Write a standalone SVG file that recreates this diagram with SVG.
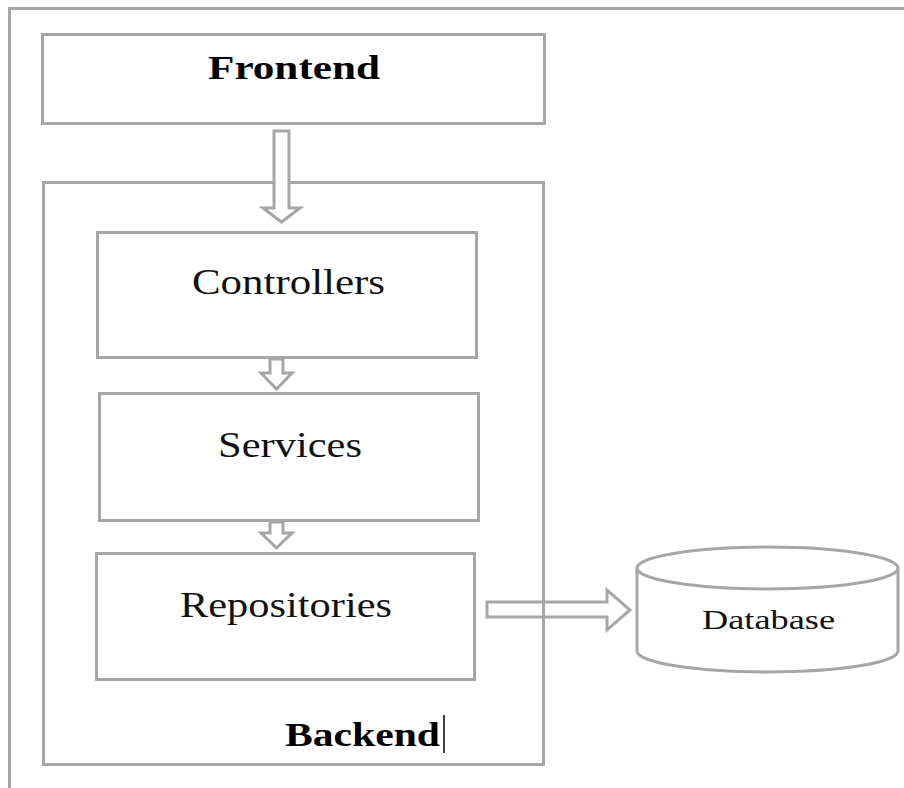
<svg xmlns="http://www.w3.org/2000/svg" width="904" height="788" viewBox="0 0 904 788">
  <style>
    .box { fill: #ffffff; stroke: #a6a6a6; stroke-width: 3; }
    .frame { fill: none; stroke: #a6a6a6; stroke-width: 3; }
    .arrow { fill: #ffffff; stroke: #a6a6a6; stroke-width: 3; stroke-linejoin: miter; }
    .arrow-open { fill: none; stroke: #a6a6a6; stroke-width: 3; }
    .label { font-family: "Liberation Serif", "Times New Roman", serif; fill: #111111; }
    .title { font-family: "Liberation Serif", "Times New Roman", serif; font-weight: bold; fill: #000000; }
  </style>

  <rect width="904" height="788" fill="#ffffff"/>

  <!-- outer page frame -->
  <rect class="frame" x="9.5" y="8.5" width="1000" height="1000"/>

  <g id="frontend">
    <rect class="box" x="42.5" y="34.5" width="502" height="89"/>
    <text class="title" x="208" y="79" font-size="33" textLength="172" lengthAdjust="spacingAndGlyphs">Frontend</text>
  </g>

  <g id="backend">
    <rect class="box" x="43.5" y="182.5" width="500" height="582"/>
    <text class="title" x="285" y="746" font-size="34" textLength="155" lengthAdjust="spacingAndGlyphs">Backend</text>
    <line x1="444" y1="715" x2="444" y2="753" stroke="#000000" stroke-width="1.5"/>
  </g>

  <g id="connectors">
    <!-- Frontend to Controllers -->
    <polygon class="arrow" points="274,131 289,131 289,208 300,208 281.5,222 263,208 274,208"/>
    <!-- Controllers to Services -->
    <polygon class="arrow" points="270,359 283,359 283,373 292,373 276.5,389 261,373 270,373"/>
    <!-- Services to Repositories -->
    <polygon class="arrow" points="270,522 283,522 283,533 292,533 276.5,548 261,533 270,533"/>
    <!-- Repositories to Database -->
    <polygon class="arrow-open" points="487,602 607,602 607,590 630,610 607,630 607,617 487,617"/>
  </g>

  <g id="controllers">
    <rect class="box" x="97.5" y="232.5" width="379" height="125"/>
    <text class="label" x="192" y="294" font-size="36" textLength="193" lengthAdjust="spacingAndGlyphs">Controllers</text>
  </g>

  <g id="services">
    <rect class="box" x="99.5" y="393.5" width="379" height="127"/>
    <text class="label" x="218" y="457" font-size="36" textLength="144" lengthAdjust="spacingAndGlyphs">Services</text>
  </g>

  <g id="repositories">
    <rect class="box" x="96.5" y="553.5" width="378" height="126"/>
    <text class="label" x="180" y="617" font-size="36" textLength="212" lengthAdjust="spacingAndGlyphs">Repositories</text>
  </g>

  <g id="database">
    <path class="box" d="M637,568 L637,651 A130.5,21 0 0 0 898,651 L898,568"/>
    <ellipse class="box" cx="767.5" cy="568" rx="130.5" ry="21"/>
    <text class="label" x="702" y="629" font-size="28" textLength="133" lengthAdjust="spacingAndGlyphs">Database</text>
  </g>
</svg>
